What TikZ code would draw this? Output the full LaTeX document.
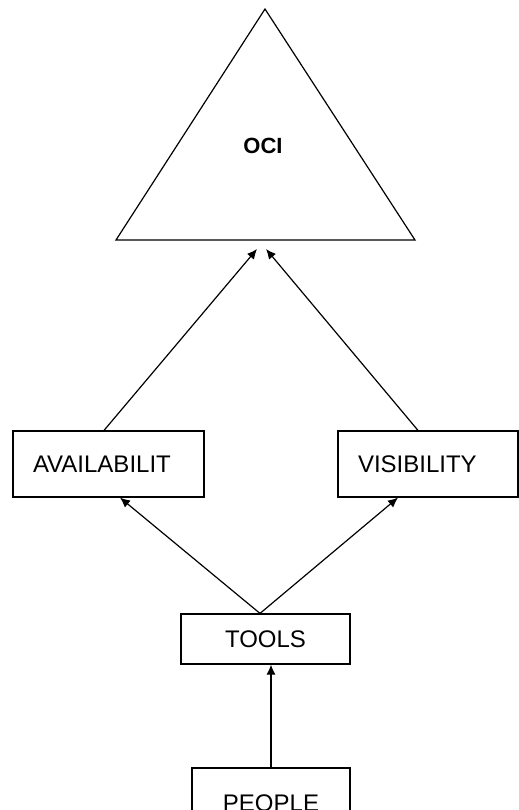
\documentclass[tikz,border=0pt]{standalone}
\usepackage{fontspec}
\setmainfont{Liberation Sans}
\usetikzlibrary{arrows, arrows.meta}

\tikzset{
  box/.style={draw, line width=0.6pt, minimum height=33pt, inner sep=0pt,
    font=\fontsize{12}{14}\selectfont},
  leftbox/.style={box, text width=#1, align=left, inner xsep=10pt},
  link/.style={-{Latex[length=5pt,width=4.5pt]}, line width=0.6pt}
}

\begin{document}
\begin{tikzpicture}[x=0.5pt,y=-0.5pt]
\useasboundingbox (0,0) rectangle (519,810);
\clip (0,0) rectangle (519,810);

% the OCI triangle
\draw[line width=0.6pt] (265,9) -- (116,240) -- (415,240) -- cycle;
\node[font=\fontsize{11}{13}\selectfont\bfseries] (oci) at (263,146) {OCI};
\coordinate (tipL) at (257,249);
\coordinate (tipR) at (266,249);

% boxes
\node[leftbox=75.5pt, minimum height=33pt] (avail) at (108.5,464) {AVAILABILIT};
\node[leftbox=70pt, minimum height=33pt] (vis) at (428,464) {VISIBILITY};
\node[box, minimum width=84.5pt, minimum height=25pt] (tools) at (265.5,639) {TOOLS};
\node[box, minimum width=79pt, minimum height=35pt] (people) at (271,803) {PEOPLE};

% arrows
\draw[link] ([xshift=-2.25pt]avail.north) -- (tipL);
\draw[link] ([xshift=-5pt]vis.north) -- (tipR);
\draw[link] ([xshift=-2.75pt]tools.north) -- ([xshift=5.75pt]avail.south);
\draw[link] ([xshift=-2.75pt]tools.north) -- ([xshift=-15pt]vis.south);
\draw[link] (people.north) -- (people.north |- tools.south);

\end{tikzpicture}
\end{document}
